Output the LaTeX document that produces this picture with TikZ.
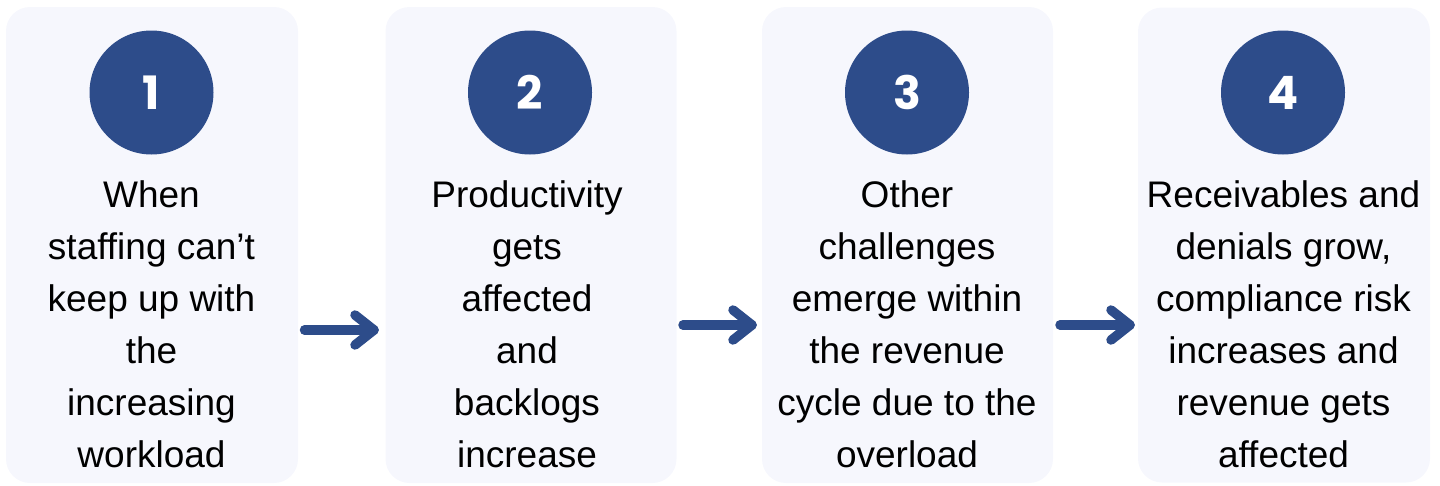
\documentclass[tikz,border=0pt]{standalone}
\usepackage{fontspec}
\setmainfont{Liberation Sans}
\newfontfamily\numfont{Poppins}
\definecolor{panelbg}{RGB}{246,247,253}
\definecolor{navy}{RGB}{45,76,138}
\tikzset{
  panel/.style={fill=panelbg, draw=none, rounded corners=24pt, inner sep=0pt},
  numcircle/.style={circle, fill=navy, draw=none, minimum size=124pt, inner sep=0pt},
  numtxt/.style={text=white, font=\numfont\bfseries\fontsize{46}{46}\selectfont, inner sep=0pt},
  bodytxt/.style={align=center, inner sep=0pt, font=\fontsize{37}{52}\selectfont, text=black},
  arr/.style={draw=navy, line width=9.5pt, line cap=round, line join=round},
}
\begin{document}
\begin{tikzpicture}[x=1pt,y=-1pt]
\useasboundingbox (0,0) rectangle (1440,485);
% panels
\node[panel, minimum width=292pt, minimum height=476pt] (p1) at (152,245) {};
\node[panel, minimum width=291pt, minimum height=476pt] (p2) at (531,245) {};
\node[panel, minimum width=291pt, minimum height=476pt] (p3) at (907.5,245) {};
\node[panel, minimum width=292pt, minimum height=475pt] (p4) at (1284,245) {};
% circles
\node[numcircle] (c1) at (151.5,92.5) {};
\node[numcircle] (c2) at (530,92.5) {};
\node[numcircle] (c3) at (907,92.5) {};
\node[numcircle] (c4) at (1283,92.5) {};
\node[numtxt, anchor=base] (n1) at (151.5,109.3) {1};
\node[numtxt, anchor=base] (n2) at (530,109.3) {2};
\node[numtxt, anchor=base] (n3) at (907,109.3) {3};
\node[numtxt, anchor=base] (n4) at (1283,109.3) {4};
% texts (base anchor = last line)
\node[bodytxt, anchor=base] (t1) at (151.5,467.5) {When\\staffing can’t\\keep up with\\the\\increasing\\workload};
\node[bodytxt, anchor=base] (t2) at (527,467.5) {Productivity\\gets\\affected\\and\\backlogs\\increase};
\node[bodytxt, anchor=base] (t3) at (907,467.5) {Other\\challenges\\emerge within\\the revenue\\cycle due to the\\overload};
\node[bodytxt, anchor=base] (t4) at (1283.5,467.5) {Receivables and\\denials grow,\\compliance risk\\increases and\\revenue gets\\affected};
% arrows
\coordinate (a1s) at (304.5,330);
\coordinate (a1e) at (374,330);
\coordinate (a2s) at (683,325);
\coordinate (a2e) at (752,325);
\coordinate (a3s) at (1060,325);
\coordinate (a3e) at (1130,325);
\foreach \s/\e in {a1s/a1e, a2s/a2e, a3s/a3e}{
  \draw[arr] (\s) -- (\e);
  \draw[arr] (\e) ++(-19,-15) -- (\e) -- ++(-19,15);
}
\end{tikzpicture}
\end{document}
